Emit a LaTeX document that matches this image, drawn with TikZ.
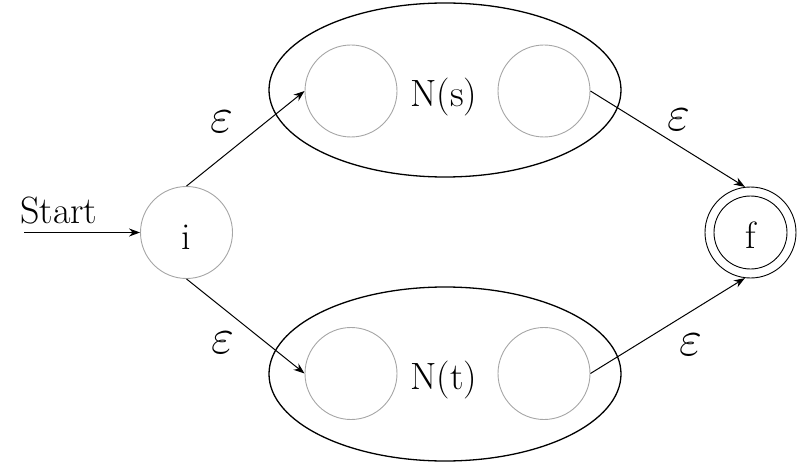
\documentclass[tikz,border=0pt]{standalone}
\usepackage{graphicx}
\usetikzlibrary{arrows.meta,shapes.geometric}
\newcommand{\epsbig}{\scalebox{2.0}{$\varepsilon$}}
\begin{document}
\begin{tikzpicture}[x=1pt,y=-1pt,
  state/.style={circle,draw=black!35,line width=0.9pt,minimum size=92pt,inner sep=0pt},
  fcirc/.style={circle,draw=black,line width=0.9pt,inner sep=0pt},
  group/.style={ellipse,draw=black,line width=1.3pt,minimum width=352pt,minimum height=174pt,inner sep=0pt},
  lbl/.style={font=\rmfamily\fontsize{38}{45}\selectfont,inner sep=0pt},
  arr/.style={line width=1pt,-{Stealth[length=11pt,width=8pt]}}]
\useasboundingbox (0,0) rectangle (800,465);
\node[group] (ES) at (445,90) {};
\node[group] (ET) at (445,374) {};
\node[state] (i) at (186.5,232.5) {};
\node[lbl,anchor=base] (il) at (186.5,249) {i};
\node[state] (s1) at (351,91) {};
\node[state] (s2) at (544,91) {};
\node[state] (t1) at (351,373.5) {};
\node[state] (t2) at (544,373.5) {};
\node[lbl,anchor=base] (Ns) at (444,107) {N(s)};
\node[lbl,anchor=base] (Nt) at (444,389) {N(t)};
\node[fcirc,minimum size=91pt] (f) at (750.5,232.5) {};
\node[fcirc,minimum size=73pt] (fi) at (750.5,232.5) {};
\node[lbl,anchor=base] (fl) at (750.5,248) {f};
\node[lbl,anchor=base west] (start) at (20,223) {Start};
\coordinate (s0) at (24,232.5);
\draw[arr] (s0) -- (i.west);
\draw[arr] (i.north) -- (s1.west);
\draw[arr] (i.south) -- (t1.west);
\draw[arr] (s2.east) -- (f.97);
\draw[arr] (t2.east) -- (f.263);
\node[lbl] (e1) at (222,122) {\epsbig};
\node[lbl] (e2) at (679,120) {\epsbig};
\node[lbl] (e3) at (223,343) {\epsbig};
\node[lbl] (e4) at (691,345) {\epsbig};
\end{tikzpicture}
\end{document}
